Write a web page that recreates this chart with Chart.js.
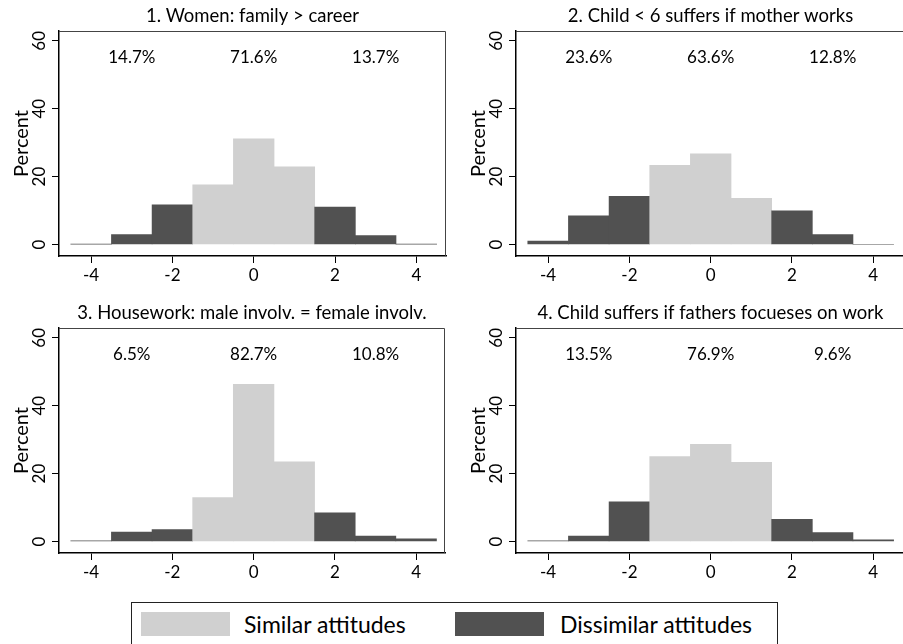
<!DOCTYPE html>
<html>
<head>
<meta charset="utf-8">
<script src="https://cdn.jsdelivr.net/npm/chart.js@4.4.1/dist/chart.umd.min.js"></script>
<style>
  html, body { margin: 0; padding: 0; background: #fff; overflow: hidden; width: 903px; height: 644px; }
  .panel { position: absolute; }
  #legend { position: absolute; left: 131px; top: 602px; width: 645px; height: 60px; border: 1px solid #222; font-family: Lato, sans-serif; font-size: 23px; color: #000; }
  .key { position: absolute; top: 9px; width: 89px; height: 24px; }
  .lab { position: absolute; top: 8px; line-height: 26px; white-space: nowrap; }
</style>
</head>
<body>
<canvas id="p1" class="panel"></canvas>
<canvas id="p2" class="panel"></canvas>
<canvas id="p3" class="panel"></canvas>
<canvas id="p4" class="panel"></canvas>
<div id="legend">
  <div class="key" style="left:9px;background:#d0d0d0"></div>
  <div class="lab" style="left:112px">Similar attitudes</div>
  <div class="key" style="left:323px;background:#515151"></div>
  <div class="lab" style="left:428px">Dissimilar attitudes</div>
</div>
<script>
// Données (pourcentages par classe)
const bins = [-4, -3, -2, -1, 0, 1, 2, 3, 4];
const similarBins = [-1, 0, 1];
const titles = [
  "1. Women: family > career",
  "2. Child < 6 suffers if mother works",
  "3. Housework: male involv. = female involv.",
  "4. Child suffers if fathers focueses on work"
];
const pct1 = [0.1, 2.9, 11.7, 17.6, 31.1, 22.9, 11.0, 2.6, 0.1];
const pct2 = [1.0, 8.4, 14.2, 23.3, 26.7, 13.6, 9.9, 2.9, 0];
const pct3 = [0.2, 2.8, 3.5, 12.9, 46.3, 23.5, 8.4, 1.6, 0.8];
const pct4 = [0.2, 1.6, 11.7, 25.0, 28.6, 23.3, 6.5, 2.6, 0.5];
const shares1 = [14.7, 71.6, 13.7];
const shares2 = [23.6, 63.6, 12.8];
const shares3 = [6.5, 82.7, 10.8];
const shares4 = [13.5, 76.9, 9.6];
const shareX = [-3, 0, 3];
const shareY = 55;
const xTicks = [-4, -2, 0, 2, 4];
const yTicks = [0, 20, 40, 60];

const LIGHT = "#d0d0d0";
const DARK = "#515151";
const FONT = "Lato, sans-serif";

// Cadre + pourcentages
const framePlugin = {
  id: "frame",
  afterDatasetsDraw(chart, args, opts) {
    const { ctx, chartArea: a, scales: { x, y } } = chart;
    ctx.save();
    ctx.strokeStyle = "#444";
    ctx.lineWidth = 1;
    ctx.beginPath();
    ctx.moveTo(a.left, a.top + 0.5);
    ctx.lineTo(a.right - 0.5, a.top + 0.5);
    ctx.lineTo(a.right - 0.5, a.bottom);
    ctx.stroke();
    ctx.fillStyle = "#000";
    ctx.font = "17px " + FONT;
    ctx.textAlign = "center";
    ctx.textBaseline = "middle";
    opts.shares.forEach((s, i) => {
      ctx.fillText(s.toFixed(1) + "%", x.getPixelForValue(shareX[i]), y.getPixelForValue(shareY));
    });
    ctx.restore();
  }
};

const panels = [
  { id: "p1", left: 0,   top: 0,   width: 460, padRight: 14, xMax: 4.73, title: titles[0], values: pct1, shares: shares1 },
  { id: "p2", left: 457, top: 0,   width: 460, padRight: 12, xMax: 4.78, title: titles[1], values: pct2, shares: shares2 },
  { id: "p3", left: 0,   top: 297, width: 460, padRight: 15, xMax: 4.71, title: titles[2], values: pct3, shares: shares3 },
  { id: "p4", left: 457, top: 297, width: 460, padRight: 12, xMax: 4.78, title: titles[3], values: pct4, shares: shares4 }
];

const axisLine = { display: true, color: "#000", width: 1.5 };
const tickMarks = { drawOnChartArea: false, drawTicks: true, tickLength: 7, color: "#000", lineWidth: 1, offset: false };

panels.forEach(p => {
  const cv = document.getElementById(p.id);
  cv.style.left = p.left + "px";
  cv.style.top = p.top + "px";
  cv.style.width = p.width + "px";
  cv.style.height = "295px";

  new Chart(cv, {
    type: "bar",
    data: {
      datasets: [{
        data: bins.map((b, i) => ({ x: b, y: p.values[i] })),
        backgroundColor: ctx => similarBins.includes(bins[ctx.dataIndex]) ? LIGHT : DARK,
        borderWidth: 0,
        barPercentage: 1,
        categoryPercentage: 1
      }]
    },
    plugins: [framePlugin],
    options: {
      responsive: false,
      animation: false,
      events: [],
      layout: { padding: { left: 0, top: 0, bottom: 0, right: p.padRight } },
      plugins: {
        legend: { display: false },
        tooltip: { enabled: false },
        title: {
          display: true,
          text: p.title,
          fullSize: false,
          color: "#000",
          font: { family: FONT, size: 18.5, weight: "normal" },
          padding: { top: 5, bottom: 3.8 }
        },
        frame: { shares: p.shares }
      },
      scales: {
        x: {
          type: "linear",
          offset: false,
          min: -4.79,
          max: p.xMax,
          afterBuildTicks: s => { s.ticks = xTicks.map(v => ({ value: v })); },
          afterFit: s => { s.height = 39; },
          grid: tickMarks,
          border: axisLine,
          ticks: { color: "#000", font: { family: FONT, size: 17 }, padding: 2, maxRotation: 0, autoSkip: false }
        },
        y: {
          min: -3.4,
          max: 62.9,
          afterBuildTicks: s => { s.ticks = yTicks.map(v => ({ value: v })); },
          afterFit: s => { s.width = 59; },
          grid: tickMarks,
          border: axisLine,
          ticks: { color: "#000", font: { family: FONT, size: 17 }, padding: 3, minRotation: 90, maxRotation: 90, crossAlign: "center", autoSkip: false },
          title: { display: true, text: "Percent", color: "#000", font: { family: FONT, size: 20 }, padding: { top: 10, bottom: 0 } }
        }
      }
    }
  });
});
</script>
</body>
</html>
